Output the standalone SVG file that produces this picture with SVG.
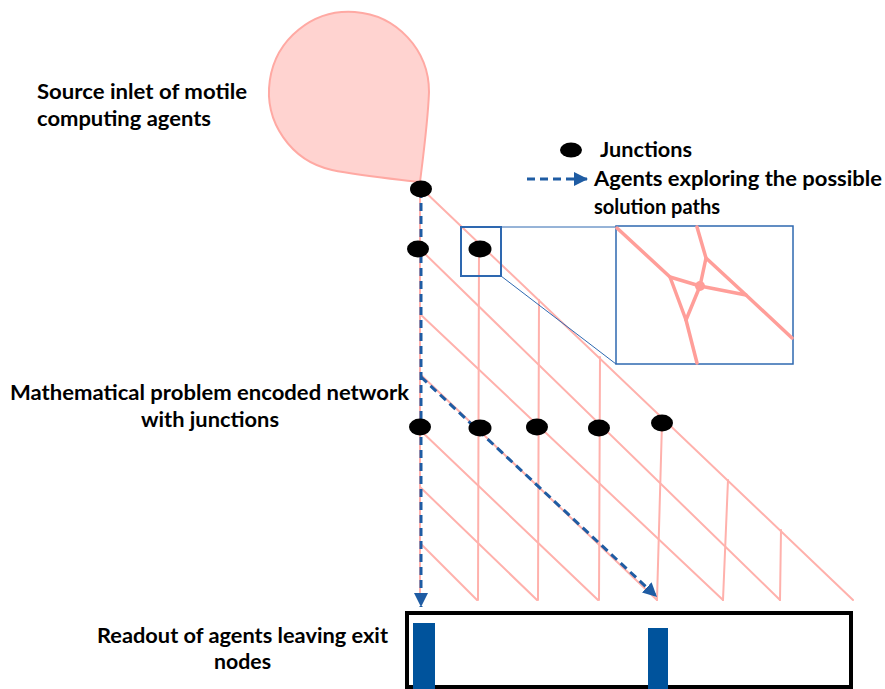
<svg xmlns="http://www.w3.org/2000/svg" width="885" height="689" viewBox="0 0 885 689">
<style>
  .lbl { font-family: Lato, "Open Sans", "Liberation Sans", sans-serif; font-weight: bold; font-size: 21px; fill: #000; }
  .net { stroke: #FFB1AC; stroke-width: 2; fill: none; stroke-linecap: round; }
  .inset { stroke: #FF9E99; stroke-width: 3.5; fill: none; stroke-linecap: round; stroke-linejoin: round; }
  .agent { stroke: #1F5CA3; stroke-width: 3; fill: none; stroke-dasharray: 8 5; }
  .jn { fill: #000; }
  .zoombox { fill: none; stroke: #2E68B0; }
</style>
<defs>
  <marker id="arr" markerUnits="userSpaceOnUse" markerWidth="14" markerHeight="14" viewBox="0 0 12 12" refX="12" refY="6" orient="auto">
    <path d="M0,0 L12,6 L0,12 Z" fill="#1F5CA3"/>
  </marker>
</defs>
<rect width="885" height="689" fill="#fff"/>

<g id="source-inlet">
  <path d="M420,182 C424,150 428,120 429,92 A80,80 0 1 0 332,170 C360,176 395,179 420,182 Z" fill="#FFD3D0" stroke="#FFA9A3" stroke-width="2"/>
  <text class="lbl" x="37" y="99" textLength="210" lengthAdjust="spacingAndGlyphs">Source inlet of motile</text>
  <text class="lbl" x="37" y="126" textLength="174" lengthAdjust="spacingAndGlyphs">computing agents</text>
</g>

<g id="connectors">
  <line class="net" x1="420" y1="182" x2="420" y2="600"/>
  <line class="net" x1="421" y1="188" x2="853" y2="600"/>
  <line class="net" x1="420" y1="249" x2="780" y2="600"/>
  <line class="net" x1="420" y1="314" x2="723" y2="600"/>
  <line class="net" x1="420" y1="374" x2="657" y2="600"/>
  <line class="net" x1="420" y1="430" x2="598" y2="600"/>
  <line class="net" x1="420" y1="487" x2="537" y2="600"/>
  <line class="net" x1="420" y1="543" x2="477" y2="600"/>
  <line class="net" x1="479" y1="249" x2="478" y2="600"/>
  <line class="net" x1="539" y1="300" x2="538" y2="600"/>
  <line class="net" x1="600" y1="357" x2="599" y2="600"/>
  <line class="net" x1="662" y1="423" x2="657" y2="600"/>
  <line class="net" x1="728" y1="480" x2="723" y2="600"/>
  <line class="net" x1="781" y1="530" x2="780" y2="600"/>
  <line class="agent" x1="421" y1="190" x2="421" y2="607" marker-end="url(#arr)"/>
  <line class="agent" x1="421" y1="377" x2="657" y2="597" marker-end="url(#arr)"/>
  <line x1="501" y1="227" x2="616" y2="227" stroke="#2E68B0" stroke-width="1"/>
  <line x1="501" y1="276" x2="616" y2="364" stroke="#2E68B0" stroke-width="1"/>
</g>

<g id="junctions">
  <ellipse id="j1" class="jn" cx="421" cy="189" rx="11" ry="8.5"/>
  <ellipse id="j2" class="jn" cx="418" cy="249" rx="11" ry="8.5"/>
  <ellipse id="j3" class="jn" cx="480" cy="249" rx="11.5" ry="8.5"/>
  <ellipse id="j4" class="jn" cx="420" cy="427" rx="11" ry="8.5"/>
  <ellipse id="j5" class="jn" cx="480" cy="428" rx="11.5" ry="8.5"/>
  <ellipse id="j6" class="jn" cx="537" cy="427" rx="11" ry="8.5"/>
  <ellipse id="j7" class="jn" cx="599" cy="428" rx="11" ry="8.5"/>
  <ellipse id="j8" class="jn" cx="662" cy="423" rx="11" ry="8.5"/>
</g>

<g id="zoom-small">
  <rect class="zoombox" x="461" y="227" width="40" height="49" stroke-width="2"/>
</g>

<g id="zoom-inset">
  <rect class="zoombox" x="616" y="226" width="177" height="138" stroke-width="1.5"/>
  <polyline class="inset" points="617,228 670,277 700,286"/>
  <polyline class="inset" points="670,277 686,320 697,363"/>
  <polyline class="inset" points="686,320 700,286 706,258 697,227"/>
  <polyline class="inset" points="706,258 746,295 792,338"/>
  <line class="inset" x1="700" y1="286" x2="746" y2="295"/>
  <circle cx="700" cy="286" r="5" fill="#FF9E99"/>
</g>

<g id="legend">
  <ellipse class="jn" cx="571" cy="150" rx="11" ry="7.5"/>
  <text class="lbl" x="600" y="157" textLength="92" lengthAdjust="spacingAndGlyphs">Junctions</text>
  <line class="agent" x1="527" y1="179" x2="588" y2="179" stroke-width="2.5" stroke-dasharray="7 4" marker-end="url(#arr)"/>
  <text class="lbl" x="594" y="186" textLength="288" lengthAdjust="spacingAndGlyphs">Agents exploring the possible</text>
  <text class="lbl" x="594" y="214" textLength="126" lengthAdjust="spacingAndGlyphs">solution paths</text>
</g>

<g id="network-label">
  <text class="lbl" x="10" y="400" textLength="399" lengthAdjust="spacingAndGlyphs">Mathematical problem encoded network</text>
  <text class="lbl" x="141" y="427" textLength="138" lengthAdjust="spacingAndGlyphs">with junctions</text>
</g>

<g id="readout">
  <rect x="407" y="613" width="444" height="74" fill="none" stroke="#000" stroke-width="4"/>
  <rect x="413" y="623" width="22" height="66" fill="#00539C"/>
  <rect x="648" y="628" width="20" height="61" fill="#00539C"/>
  <text class="lbl" x="97" y="643" textLength="291" lengthAdjust="spacingAndGlyphs">Readout of agents leaving exit</text>
  <text class="lbl" x="214" y="669" textLength="57" lengthAdjust="spacingAndGlyphs">nodes</text>
</g>
</svg>
